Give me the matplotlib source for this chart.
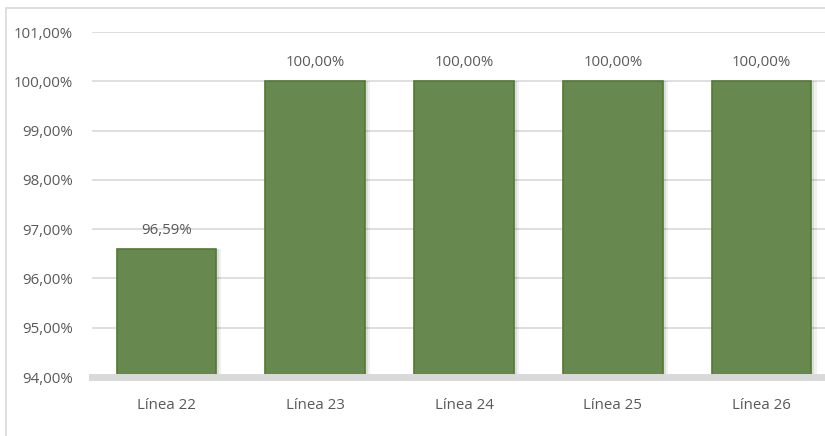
import matplotlib.pyplot as plt
from matplotlib.ticker import FuncFormatter
from matplotlib.patches import Rectangle

categorias = ['Línea 22', 'Línea 23', 'Línea 24', 'Línea 25', 'Línea 26']
valores = [96.59, 100.00, 100.00, 100.00, 100.00]
y_ticks = [94, 95, 96, 97, 98, 99, 100, 101]

plt.rcParams['font.family'] = ['Open Sans', 'DejaVu Sans']
gris_texto = '#595959'
gris_linea = '#d9d9d9'

fig = plt.figure(figsize=(8.25, 4.36), dpi=100)

# marco del grafico (se sale por la derecha, como en la captura)
fig.add_artist(Rectangle((6 / 825, -0.1), 2.0, 1 - 8 / 436 + 0.1,
                         transform=fig.transFigure, fill=False,
                         edgecolor=gris_linea, linewidth=1.2))

ax = fig.add_axes([92 / 825, 1 - 377 / 436, 744 / 825, 345 / 436])

x = list(range(len(categorias)))

# sombra suave a la derecha de las barras
for dx, a in [(0.035, 0.06), (0.02, 0.08)]:
    ax.bar([i + dx for i in x], [v - 94 for v in valores], bottom=94, width=0.67,
           color='black', alpha=a, linewidth=0, zorder=2)

barras = ax.bar(x, [v - 94 for v in valores], bottom=94, width=0.67,
                color='#67884f', edgecolor='#4f7a2f', linewidth=1.2, zorder=3)

for i, v in enumerate(valores):
    ax.annotate(f'{v:.2f}%'.replace('.', ','), (i, v), xytext=(0, 8),
                textcoords='offset points', ha='center', va='bottom',
                fontsize=10.8, color=gris_texto)

ax.set_xlim(-0.5, len(categorias) - 0.5)
ax.set_ylim(94, 101)
ax.set_yticks(y_ticks)
ax.yaxis.set_major_formatter(FuncFormatter(lambda v, p: f'{v:.2f}%'.replace('.', ',')))
ax.set_xticks(x)
ax.set_xticklabels(categorias)

ax.grid(axis='y', color=gris_linea, linewidth=1.2, zorder=0)
ax.set_axisbelow(True)
for s in ['top', 'right', 'left']:
    ax.spines[s].set_visible(False)
ax.spines['bottom'].set_color(gris_linea)
ax.spines['bottom'].set_linewidth(5)
ax.spines['bottom'].set_zorder(4)

ax.tick_params(axis='both', length=0, labelsize=10.8, labelcolor=gris_texto)
ax.tick_params(axis='y', pad=14)
ax.tick_params(axis='x', pad=15)

fig.savefig('out.png', dpi=100)
